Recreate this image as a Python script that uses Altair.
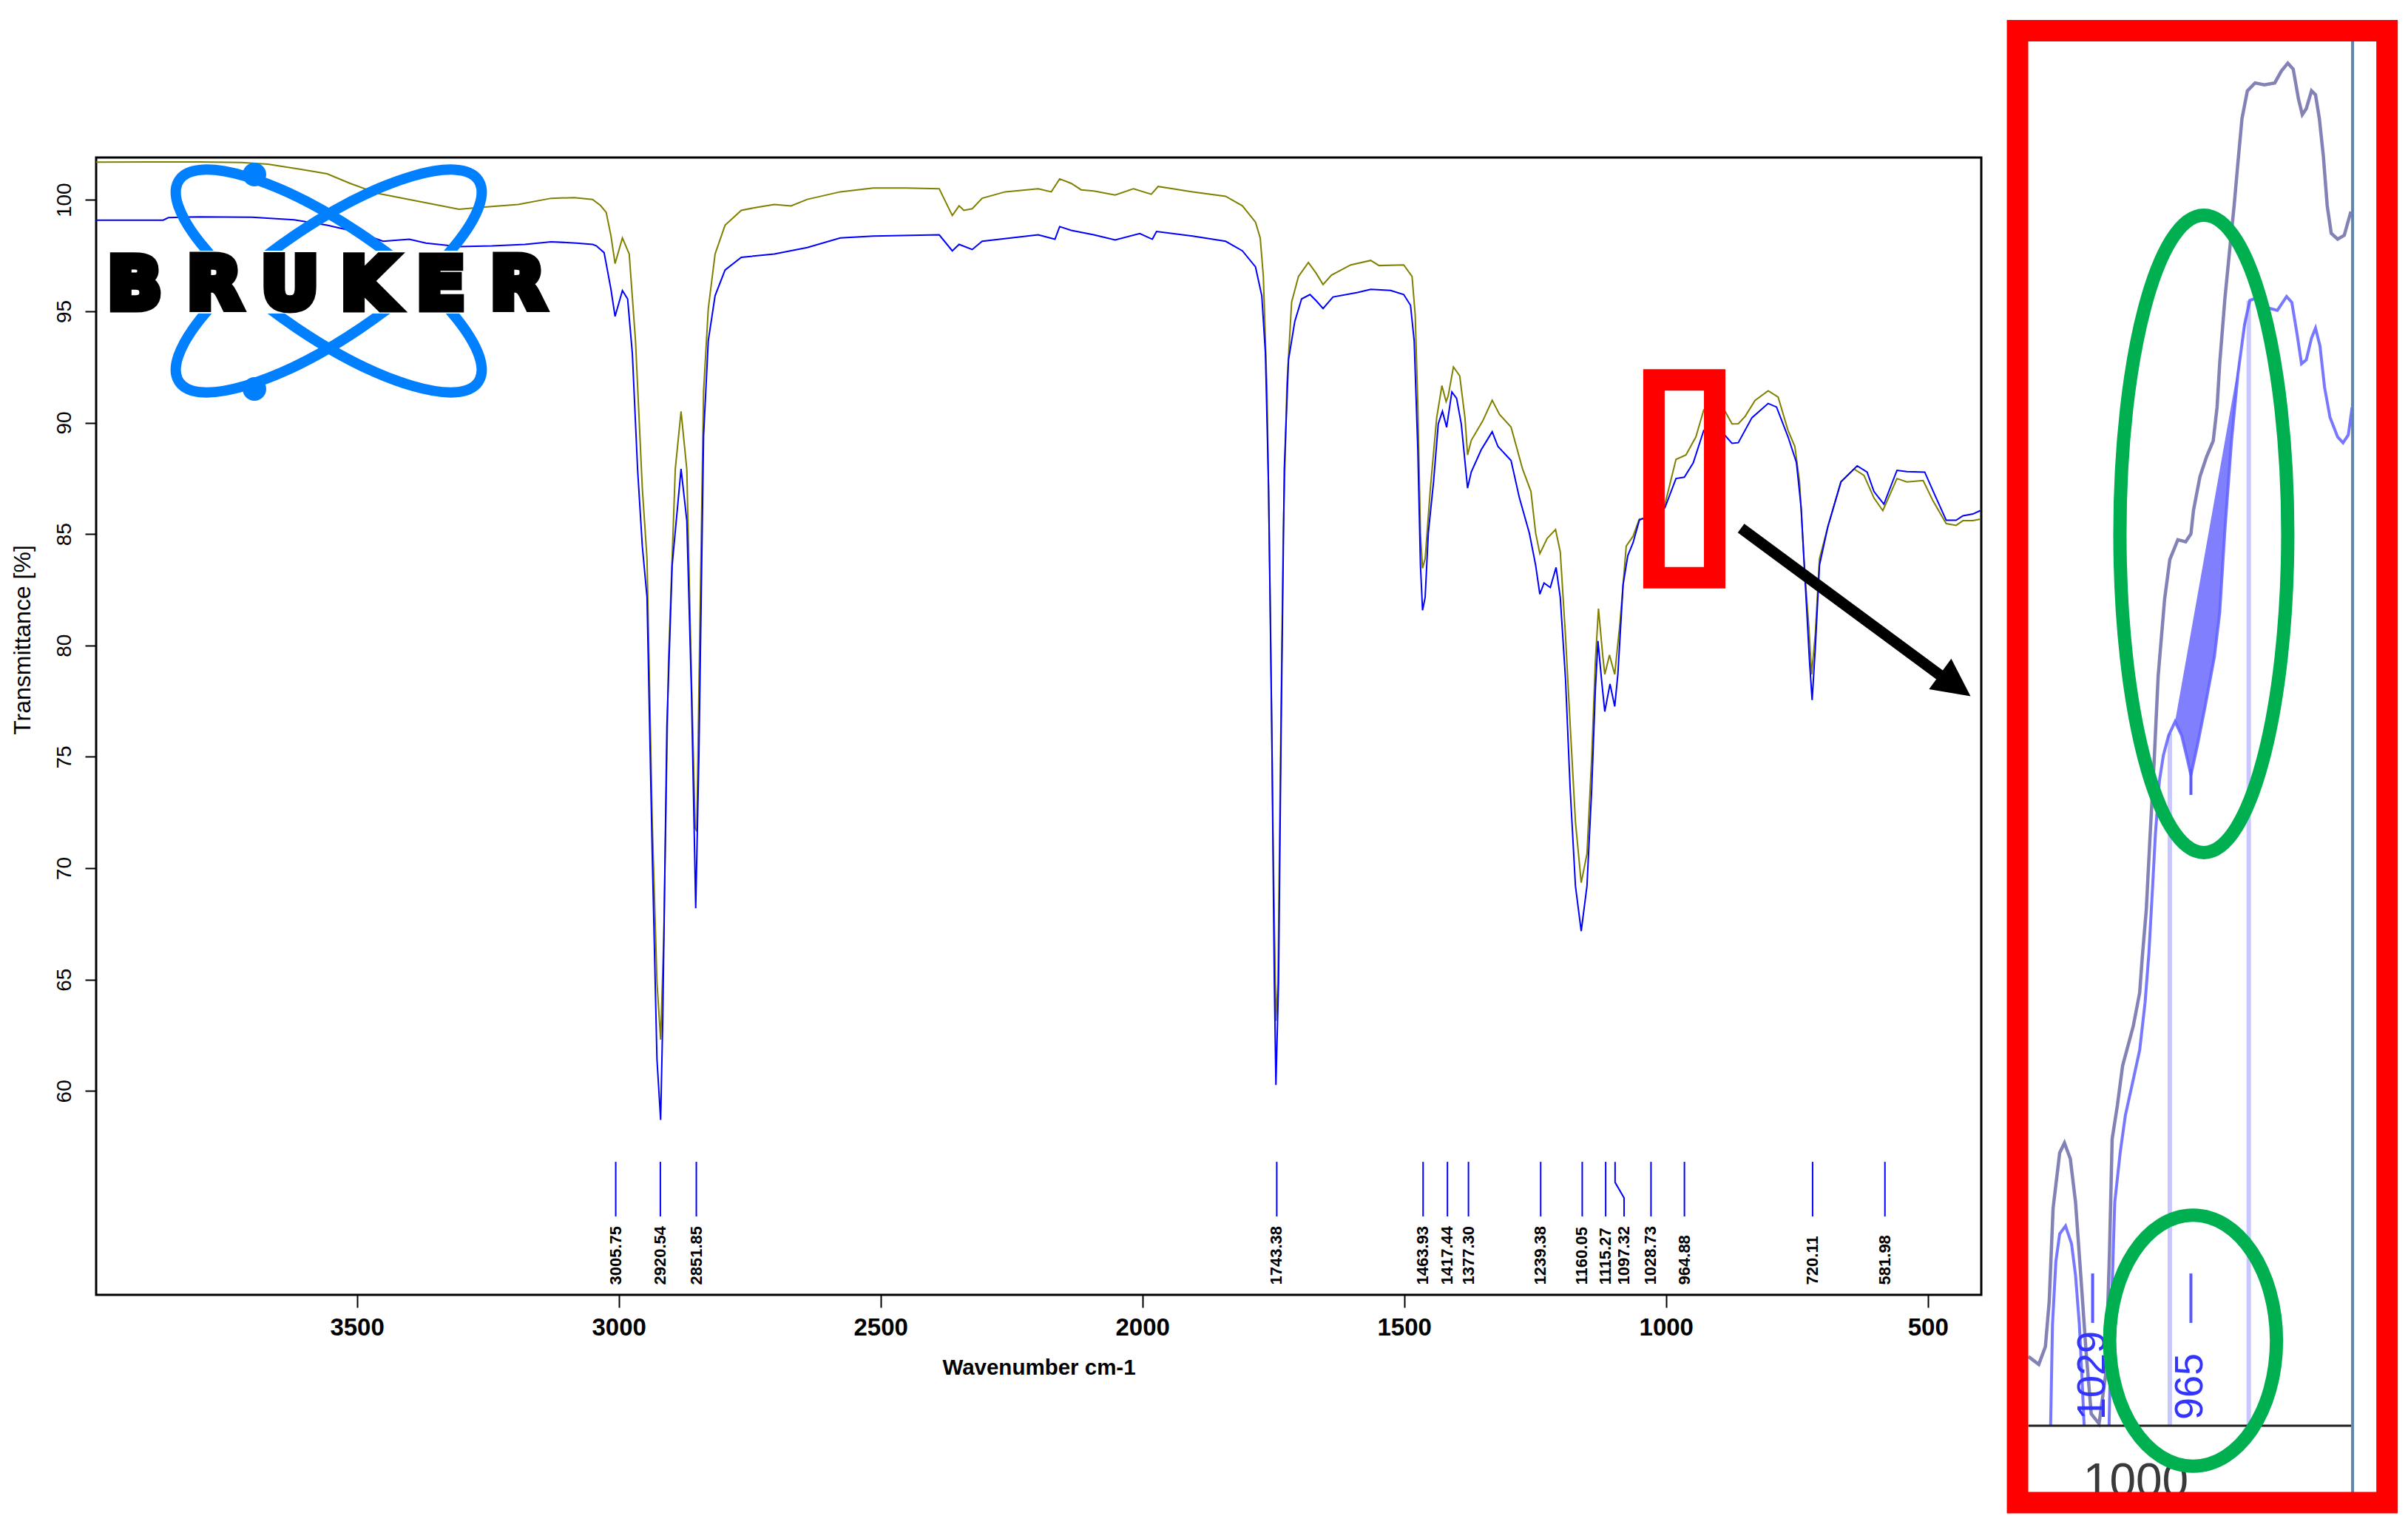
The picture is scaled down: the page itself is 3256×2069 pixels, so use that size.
import altair as alt
import pandas as pd

# ----------------------------------------------------------------------------
# Main IR spectrum (wavenumber cm-1, transmittance %)
# ----------------------------------------------------------------------------
OLIVE_WN = [3998, 3900, 3800, 3720, 3670, 3607, 3557, 3513, 3462, 3368,
            3305, 3261, 3192, 3129, 3085, 3050, 3035, 3024, 3015, 3007,
            2993, 2980, 2968, 2955, 2946, 2936, 2927, 2920, 2914, 2905,
            2892, 2881, 2870, 2861, 2854, 2851, 2845, 2838, 2829, 2816,
            2797, 2766, 2735, 2703, 2671, 2640, 2577, 2514, 2451, 2388,
            2375, 2363, 2350, 2341, 2325, 2306, 2262, 2199, 2174, 2158,
            2136, 2117, 2093, 2052, 2017, 1983, 1970, 1904, 1841, 1809,
            1784, 1775, 1769, 1762, 1756, 1750, 1745, 1741, 1737, 1731,
            1724, 1715, 1702, 1683, 1668, 1655, 1639, 1602, 1564, 1548,
            1501, 1485, 1479, 1474, 1469, 1465, 1460, 1450, 1438, 1428,
            1420, 1416, 1406, 1394, 1384, 1379, 1372, 1350, 1332, 1318,
            1296, 1274, 1258, 1249, 1241, 1227, 1211, 1202, 1192, 1183,
            1173, 1162, 1151, 1142, 1135, 1129, 1121, 1117, 1108, 1098,
            1088, 1076, 1063, 1051, 1041, 1029, 1015, 1002, 981, 962,
            943, 928, 915, 900, 887, 874, 862, 849, 830, 805,
            786, 767, 754, 745, 736, 727, 722, 715, 707, 691,
            666, 641, 622, 603, 586, 559, 540, 509, 490, 465,
            446, 433, 414, 400]
OLIVE_T = [101.69, 101.70, 101.70, 101.68, 101.60, 101.37, 101.17, 100.74, 100.30, 99.87,
           99.58, 99.67, 99.79, 100.07, 100.10, 100.02, 99.75, 99.44, 98.40, 97.14,
           98.29, 97.57, 93.68, 87.06, 83.89, 72.08, 64.88, 62.30, 66.90, 79.28,
           87.92, 90.50, 87.90, 78.40, 71.80, 71.65, 81.00, 91.40, 95.12, 97.57,
           98.86, 99.53, 99.67, 99.79, 99.73, 100.02, 100.36, 100.53, 100.53, 100.50,
           99.87, 99.30, 99.73, 99.53, 99.60, 100.07, 100.36, 100.50, 100.36, 100.94,
           100.74, 100.45, 100.40, 100.22, 100.50, 100.25, 100.60, 100.36, 100.16, 99.73,
           99.00, 98.29, 96.56, 91.38, 82.20, 70.64, 63.15, 64.88, 73.50, 85.00,
           91.70, 95.41, 96.56, 97.19, 96.70, 96.20, 96.62, 97.08, 97.28, 97.05,
           97.08, 96.56, 94.83, 90.80, 85.00, 83.46, 83.90, 87.06, 90.22, 91.66,
           90.94, 91.20, 92.50, 92.10, 90.22, 88.55, 89.20, 90.08, 91.00, 90.37,
           89.80, 87.92, 86.91, 85.04, 84.12, 84.80, 85.20, 84.20, 80.43, 76.40,
           72.08, 69.35, 70.64, 74.96, 79.28, 81.65, 79.57, 78.70, 79.57, 78.70,
           81.00, 84.46, 84.90, 85.67, 85.70, 85.60, 85.90, 86.34, 88.35, 88.55,
           89.36, 90.57, 90.80, 90.70, 90.50, 89.94, 89.95, 90.28, 91.00, 91.43,
           91.15, 89.65, 88.93, 87.34, 83.60, 80.72, 78.70, 80.50, 83.89, 85.33,
           87.34, 87.92, 87.63, 86.62, 86.05, 87.49, 87.34, 87.40, 86.48, 85.47,
           85.39, 85.60, 85.60, 85.67]

BLUE_WN = [3998, 3870, 3860, 3800, 3700, 3620, 3557, 3494, 3450, 3400,
           3368, 3305, 3242, 3179, 3129, 3081, 3050, 3043, 3028, 3024,
           3015, 3007, 2993, 2983, 2974, 2964, 2955, 2946, 2936, 2927,
           2920, 2916, 2908, 2898, 2881, 2870, 2861, 2853, 2847, 2838,
           2829, 2816, 2797, 2766, 2703, 2640, 2577, 2514, 2388, 2363,
           2350, 2325, 2306, 2199, 2167, 2158, 2136, 2093, 2052, 2005,
           1981, 1973, 1904, 1841, 1809, 1784, 1772, 1765, 1759, 1753,
           1748, 1745, 1740, 1735, 1729, 1721, 1709, 1696, 1680, 1668,
           1655, 1636, 1589, 1564, 1526, 1501, 1488, 1481, 1474, 1469,
           1465, 1460, 1454, 1444, 1435, 1427, 1419, 1409, 1400, 1391,
           1379, 1372, 1353, 1332, 1321, 1296, 1280, 1261, 1249, 1241,
           1233, 1221, 1210, 1202, 1192, 1183, 1173, 1162, 1151, 1142,
           1135, 1130, 1123, 1117, 1107, 1098, 1092, 1082, 1073, 1063,
           1051, 1044, 1029, 1015, 1002, 981, 965, 948, 928, 912,
           900, 887, 874, 862, 836, 805, 789, 767, 751, 742,
           734, 726, 721, 715, 707, 691, 666, 635, 616, 603,
           584, 559, 540, 506, 487, 465, 446, 433, 414, 400]
BLUE_T = [99.09, 99.09, 99.20, 99.24, 99.22, 99.10, 98.86, 98.52, 98.14, 98.23,
          98.06, 97.90, 97.93, 98.00, 98.12, 98.06, 98.00, 97.94, 97.63, 97.14,
          96.00, 94.77, 95.93, 95.55, 93.10, 87.90, 84.46, 82.16, 70.64, 61.42,
          58.70, 63.15, 76.40, 83.60, 87.92, 85.60, 77.80, 68.20, 74.96, 89.40,
          93.68, 95.70, 96.85, 97.42, 97.57, 97.86, 98.29, 98.37, 98.43, 97.71,
          98.00, 97.77, 98.14, 98.43, 98.23, 98.80, 98.63, 98.43, 98.20, 98.49,
          98.23, 98.58, 98.37, 98.14, 97.71, 96.99, 95.70, 93.10, 87.06, 76.40,
          64.88, 60.27, 64.88, 76.40, 87.92, 92.82, 94.54, 95.55, 95.75, 95.47,
          95.12, 95.64, 95.84, 95.98, 95.93, 95.75, 95.27, 93.68, 88.78, 83.60,
          81.58, 82.16, 85.04, 87.34, 89.94, 90.51, 89.79, 91.38, 91.09, 89.94,
          87.06, 87.78, 88.78, 89.59, 88.93, 88.30, 86.62, 85.04, 83.60, 82.30,
          82.80, 82.60, 83.50, 82.16, 78.50, 73.52, 69.20, 67.18, 69.20, 73.52,
          78.00, 80.20, 78.42, 77.03, 78.27, 77.26, 78.70, 82.74, 84.03, 84.61,
          85.62, 85.70, 85.40, 85.80, 86.19, 87.49, 87.55, 88.20, 89.65, 89.90,
          89.70, 89.42, 89.07, 89.10, 90.22, 90.86, 90.70, 89.36, 88.21, 86.19,
          82.74, 79.28, 77.55, 79.86, 83.60, 85.33, 87.34, 88.06, 87.78, 86.91,
          86.34, 87.86, 87.80, 87.78, 86.77, 85.62, 85.62, 85.82, 85.90, 86.05]

PEAK_WN = [3005.75, 2920.54, 2851.85, 1743.38, 1463.93, 1417.44, 1377.30, 1239.38,
           1160.05, 1115.27, 1097.32, 1028.73, 964.88, 720.11, 581.98]
PEAK_TEXT = ["3005.75", "2920.54", "2851.85", "1743.38", "1463.93", "1417.44", "1377.30",
             "1239.38", "1160.05", "1115.27", "1097.32", "1028.73", "964.88", "720.11", "581.98"]

X_TICKS = [3500, 3000, 2500, 2000, 1500, 1000, 500]
Y_TICKS = [60, 65, 70, 75, 80, 85, 90, 95, 100]

# ----------------------------------------------------------------------------
# Zoomed inset (screenshot of the 1070-860 cm-1 region, its own units)
# ----------------------------------------------------------------------------
INSET_UPPER_WN = [1069.9, 1063.1, 1058.8, 1056.3, 1053.8, 1049.5, 1046.4, 1042.6, 1039.2, 1035.8,
                  1032.4, 1029.0, 1023.9, 1019.6, 1017.1, 1015.4, 1012.0, 1008.6, 1001.7, 997.5,
                  995.8, 993.2, 990.7, 988.1, 985.5, 981.3, 977.9, 972.7, 967.6, 964.2,
                  962.5, 958.3, 954.0, 949.7, 947.2, 945.5, 942.1, 938.7, 936.1, 933.6,
                  931.0, 927.5, 922.5, 916.5, 909.7, 905.4, 901.2, 897.7, 894.3, 891.8,
                  889.2, 885.8, 883.2, 880.7, 878.1, 875.6, 873.0, 868.8, 864.5, 860.2]
INSET_UPPER_T = [84.35, 84.31, 84.40, 84.63, 85.10, 85.38, 85.43, 85.35, 85.13, 84.76,
                 84.38, 84.06, 84.01, 84.26, 84.88, 85.45, 85.62, 85.82, 86.02, 86.19,
                 86.37, 86.61, 86.99, 87.36, 87.79, 88.18, 88.38, 88.48, 88.47, 88.51,
                 88.63, 88.80, 88.90, 88.98, 89.15, 89.37, 89.70, 89.97, 90.17, 90.39,
                 90.61, 90.75, 90.79, 90.78, 90.79, 90.85, 90.89, 90.86, 90.71, 90.63,
                 90.66, 90.75, 90.73, 90.61, 90.42, 90.17, 90.03, 90.00, 90.02, 90.14]
INSET_LOWER_A_WN = [1055.4, 1054.2, 1052.0, 1049.5, 1045.7, 1041.8, 1039.2, 1036.7, 1035.0, 1033.6]
INSET_LOWER_A_T = [84.00, 84.51, 84.83, 84.97, 85.01, 84.92, 84.76, 84.51, 84.24, 84.00]
INSET_LOWER_B_WN = [1017.4, 1015.7, 1013.7, 1010.2, 1006.8, 1001.7, 997.5, 994.0, 991.5, 989.0,
                    987.3, 984.7, 982.1, 978.7, 974.5, 970.2, 966.8, 964.2, 960.0, 954.9,
                    948.9, 945.5, 942.1, 937.8, 933.6, 929.3, 925.9, 922.5, 918.2, 913.1,
                    908.0, 902.0, 898.6, 895.2, 892.3, 889.2, 885.8, 883.2, 880.3, 877.3,
                    873.8, 868.8, 865.3, 861.9, 859.4]
INSET_LOWER_B_T = [84.00, 84.63, 85.13, 85.38, 85.57, 85.75, 85.90, 86.14, 86.39, 86.74,
                   86.99, 87.26, 87.39, 87.49, 87.56, 87.49, 87.38, 87.29, 87.44, 87.64,
                   87.89, 88.11, 88.53, 88.98, 89.32, 89.57, 89.69, 89.70, 89.66, 89.65,
                   89.64, 89.71, 89.68, 89.52, 89.37, 89.39, 89.50, 89.55, 89.46, 89.25,
                   89.10, 89.00, 88.97, 89.01, 89.15]
INSET_PEAK_WN = [1028.1, 964.2]
INSET_PEAK_TEXT = ["1029", "965"]
INSET_LIMIT_WN = [977.9, 926.6]
INSET_LIMIT_T = [87.50, 89.69]

# ----------------------------------------------------------------------------
# Layout / style
# ----------------------------------------------------------------------------
W, H = 2549, 1538
FONT = "Liberation Sans"
OLIVE, BLUE = "#808000", "#0000ff"
X_DOM = [3998, 398]
Y_DOM = [50.85, 101.9]
xs = alt.Scale(domain=X_DOM, nice=False, zero=False)
ys = alt.Scale(domain=Y_DOM, nice=False, zero=False)
SX = (X_DOM[0] - X_DOM[1]) / W    # wavenumber per pixel
SY = (Y_DOM[1] - Y_DOM[0]) / H    # transmittance per pixel


def from_px_x(p):      # plot-pixel -> main x units
    return X_DOM[0] - p * SX


def from_px_y(p):      # plot-pixel -> main y units
    return Y_DOM[1] - p * SY


# inset placement: its own wavenumber/T axes mapped to a pixel box right of the plot
INSET_WN0, INSET_PX0, INSET_KX = 1070.0, 2612.4, 2.08
INSET_T0, INSET_PY0, INSET_KY = 84.0, 1715.0, 267.43


def ix(w):
    return from_px_x(INSET_PX0 + (INSET_WN0 - w) * INSET_KX)


def iy(t):
    return from_px_y(INSET_PY0 - (t - INSET_T0) * INSET_KY)


MARK_TOP, MARK_BOT, LABEL_BASE = 56.82, 54.37, 51.30
KINK_PEAK, KINK_SHIFT, KINK_Y1, KINK_Y2 = "1097.32", 17.2, 55.9, 55.2


def ellipse_path(ax, ay):
    k = 0.5523
    return (f"M {ax} 0 C {ax} {k*ay:.4f} {k*ax:.4f} {ay} 0 {ay} "
            f"C {-k*ax:.4f} {ay} {-ax} {k*ay:.4f} {-ax} 0 "
            f"C {-ax} {-k*ay:.4f} {-k*ax:.4f} {-ay} 0 {-ay} "
            f"C {k*ax:.4f} {-ay} {ax} {-k*ay:.4f} {ax} 0 Z")


X = lambda f: alt.X(f, scale=xs)
Y = lambda f: alt.Y(f, scale=ys)

# ---------------- main spectrum layers ----------------
olive_df = pd.DataFrame({"wn": OLIVE_WN, "T": OLIVE_T})
blue_df = pd.DataFrame({"wn": BLUE_WN, "T": BLUE_T})

x_axis = alt.Axis(values=X_TICKS, format="d", grid=False, domain=False, tickSize=17,
                  tickWidth=2, tickColor="black", labelFont=FONT, labelFontSize=33,
                  labelFontWeight="bold", labelColor="black", labelPadding=11,
                  labelFlush=False, labelOverlap=False, title="Wavenumber cm-1",
                  titleFont=FONT, titleFontSize=29.5, titleFontWeight="bold",
                  titleColor="black", titleY=98, titleBaseline="middle")
y_axis = alt.Axis(values=Y_TICKS, format="d", grid=False, domain=False, tickSize=15,
                  tickWidth=2, tickColor="black", labelFont=FONT, labelFontSize=28,
                  labelColor="black", labelAngle=270, labelAlign="center",
                  labelBaseline="bottom", labelPadding=14, labelFlush=False,
                  labelOverlap=False, title="Transmittance [%]", titleFont=FONT,
                  titleFontSize=32, titleFontWeight="normal", titleColor="black",
                  titleAngle=270, titleX=-100, titleY=652, titleAlign="center",
                  titleBaseline="middle")

layers = []
layers.append(alt.Chart(olive_df).mark_line(color=OLIVE, strokeWidth=2).encode(
    x=alt.X("wn:Q", scale=xs, axis=x_axis), y=alt.Y("T:Q", scale=ys, axis=y_axis)))
layers.append(alt.Chart(blue_df).mark_line(color=BLUE, strokeWidth=2).encode(
    x=X("wn:Q"), y=Y("T:Q")))

peaks = pd.DataFrame({"wn": PEAK_WN, "label": PEAK_TEXT})
peaks["lx"] = [w - KINK_SHIFT if t == KINK_PEAK else w for w, t in zip(PEAK_WN, PEAK_TEXT)]
peaks["top"], peaks["bot"], peaks["base"] = MARK_TOP, MARK_BOT, LABEL_BASE
straight = peaks[peaks["label"] != KINK_PEAK]
kink_w = PEAK_WN[PEAK_TEXT.index(KINK_PEAK)]
kink_df = pd.DataFrame({
    "wn": [kink_w, kink_w, kink_w - KINK_SHIFT, kink_w - KINK_SHIFT],
    "T": [MARK_TOP, KINK_Y1, KINK_Y2, MARK_BOT],
    "o": [0, 1, 2, 3],
})
layers.append(alt.Chart(straight).mark_rule(color=BLUE, strokeWidth=2).encode(
    x=X("wn:Q"), y=Y("top:Q"), y2="bot:Q"))
layers.append(alt.Chart(kink_df).mark_line(color=BLUE, strokeWidth=2).encode(
    x=X("wn:Q"), y=Y("T:Q"), order="o:Q"))
layers.append(alt.Chart(peaks).mark_text(
    angle=270, align="left", baseline="middle", font=FONT, fontSize=22,
    fontWeight="bold", color="black").encode(x=X("lx:Q"), y=Y("base:Q"), text="label:N"))

# ---------------- Bruker logo (positions in plot pixels) ----------------
LOGO_BLUE = "#0080ff"
centre = pd.DataFrame({"x": [from_px_x(314.5)], "y": [from_px_y(167)]})
orbit_shape = ellipse_path(1, 0.3156)
for ang in (34, 326):
    layers.append(alt.Chart(centre).mark_point(
        shape=orbit_shape, size=238144, angle=ang, filled=False, stroke=LOGO_BLUE,
        strokeWidth=14, opacity=1).encode(x=X("x:Q"), y=Y("y:Q")))
band = pd.DataFrame({"a": [from_px_x(92)], "b": [from_px_x(537)],
                     "c": [from_px_y(126)], "d": [from_px_y(211)]})
layers.append(alt.Chart(band).mark_rect(color="white", opacity=1).encode(
    x=X("a:Q"), x2="b:Q", y=Y("c:Q"), y2="d:Q"))
dots = pd.DataFrame({"x": [from_px_x(214)] * 2, "y": [from_px_y(23), from_px_y(313)]})
layers.append(alt.Chart(dots).mark_point(shape="circle", size=1018, filled=True,
                                         color=LOGO_BLUE, opacity=1).encode(
    x=X("x:Q"), y=Y("y:Q")))
LETTER_PX = [52, 160, 262, 368, 466, 570]
letters = pd.DataFrame({"ch": list("BRUKER"),
                        "x": [from_px_x(p) for p in LETTER_PX],
                        "y": [from_px_y(204)] * 6})
layers.append(alt.Chart(letters).mark_text(
    font="DejaVu Sans", fontWeight="bold", fontSize=96, color="black",
    stroke="black", strokeWidth=11, strokeJoin="miter",
    align="center", baseline="alphabetic").encode(x=X("x:Q"), y=Y("y:Q"), text="ch:N"))

# ---------------- red box and arrow ----------------
box_df = pd.DataFrame({"x1": [1023.1], "x2": [907.1], "y1": [91.92], "y2": [83.04]})
layers.append(alt.Chart(box_df).mark_rect(fillOpacity=0, stroke="#ff0000", strokeWidth=29).encode(
    x=X("x1:Q"), x2="x2:Q", y=Y("y1:Q"), y2="y2:Q"))
arrow_df = pd.DataFrame({"x1": [856.8], "y1": [85.26], "x2": [470.1], "y2": [78.55],
                         "hx": [447.5], "hy": [78.22]})
layers.append(alt.Chart(arrow_df).mark_rule(color="black", strokeWidth=15).encode(
    x=X("x1:Q"), y=Y("y1:Q"), x2="x2:Q", y2="y2:Q"))
layers.append(alt.Chart(arrow_df).mark_point(
    shape="M 1 0 L -1 -1 L -1 1 Z", size=2601, angle=36.2, filled=True,
    color="black", opacity=1, strokeWidth=0).encode(x=X("hx:Q"), y=Y("hy:Q")))

# ---------------- inset ----------------
lim = pd.DataFrame({"x": [ix(w) for w in INSET_LIMIT_WN],
                    "y": [iy(t) for t in INSET_LIMIT_T], "y0": iy(84.0)})
layers.append(alt.Chart(lim).mark_rule(color="#c8c8ff", strokeWidth=6).encode(
    x=X("x:Q"), y=Y("y:Q"), y2="y0:Q"))

FILL_START, FILL_END = 974.5, 925.9
i0 = INSET_LOWER_B_WN.index(FILL_START)
i1 = INSET_LOWER_B_WN.index(FILL_END)
t0, t1 = INSET_LOWER_B_T[i0], INSET_LOWER_B_T[i1]
fill_wn = INSET_LOWER_B_WN[i0:i1 + 1]
fill_t = INSET_LOWER_B_T[i0:i1 + 1]
fill_df = pd.DataFrame({
    "x": [ix(w) for w in fill_wn],
    "y": [iy(t) for t in fill_t],
    "base": [iy(t0 + (w - FILL_START) * (t1 - t0) / (FILL_END - FILL_START)) for w in fill_wn],
})
layers.append(alt.Chart(fill_df).mark_area(color="#8080ff", opacity=1).encode(
    x=X("x:Q"), y=Y("y:Q"), y2="base:Q"))

lower_df = pd.concat([
    pd.DataFrame({"x": [ix(w) for w in INSET_LOWER_A_WN],
                  "y": [iy(t) for t in INSET_LOWER_A_T], "seg": "a"}),
    pd.DataFrame({"x": [ix(w) for w in INSET_LOWER_B_WN],
                  "y": [iy(t) for t in INSET_LOWER_B_T], "seg": "b"}),
])
layers.append(alt.Chart(lower_df).mark_line(color="#6060ff", strokeWidth=4, opacity=0.85).encode(
    x=X("x:Q"), y=Y("y:Q"), detail="seg:N"))
upper_df = pd.DataFrame({"x": [ix(w) for w in INSET_UPPER_WN],
                         "y": [iy(t) for t in INSET_UPPER_T]})
layers.append(alt.Chart(upper_df).mark_line(color="#7474ae", strokeWidth=4.5, opacity=0.9).encode(
    x=X("x:Q"), y=Y("y:Q")))

iaxis = pd.DataFrame({"a": [ix(1069.9)], "b": [ix(860.1)], "y": [iy(84.0)]})
layers.append(alt.Chart(iaxis).mark_rule(color="#1e1e1e", strokeWidth=3).encode(
    x=X("a:Q"), x2="b:Q", y=Y("y:Q")))
steel = pd.DataFrame({"x": [ix(859.1)], "a": [iy(91.0)], "b": [iy(83.66)]})
layers.append(alt.Chart(steel).mark_rule(color="#5f84b0", strokeWidth=4).encode(
    x=X("x:Q"), y=Y("a:Q"), y2="b:Q"))

ipk = pd.DataFrame({"x": [ix(w) for w in INSET_PEAK_WN], "label": INSET_PEAK_TEXT,
                    "a": iy(84.77), "b": iy(84.52), "base": iy(84.03),
                    "da": iy(87.32), "db": iy(87.19)})
layers.append(alt.Chart(ipk).mark_rule(color="#5a5aff", strokeWidth=4).encode(
    x=X("x:Q"), y=Y("a:Q"), y2="b:Q"))
layers.append(alt.Chart(ipk[ipk["label"] == "965"]).mark_rule(color="#5a5aff", strokeWidth=4).encode(
    x=X("x:Q"), y=Y("da:Q"), y2="db:Q"))
layers.append(alt.Chart(ipk).mark_text(
    angle=270, align="left", baseline="middle", font=FONT, fontSize=54, color="#3434ff"
).encode(x=X("x:Q"), y=Y("base:Q"), text="label:N"))
t1000 = pd.DataFrame({"x": [ix(1000)], "y": [iy(83.83)], "label": ["1000"]})
layers.append(alt.Chart(t1000).mark_text(
    baseline="top", align="center", font=FONT, fontSize=64, color="#3a3a3a"
).encode(x=X("x:Q"), y=Y("y:Q"), text="label:N"))

g1 = pd.DataFrame({"x": [ix(955.8)], "y": [iy(88.51)]})
g2 = pd.DataFrame({"x": [ix(962.8)], "y": [iy(84.43)]})
layers.append(alt.Chart(g1).mark_point(
    shape=ellipse_path(0.2633, 1), size=743044, filled=False, stroke="#00b050",
    strokeWidth=18, opacity=1).encode(x=X("x:Q"), y=Y("y:Q")))
layers.append(alt.Chart(g2).mark_point(
    shape=ellipse_path(0.6647, 1), size=115192, filled=False, stroke="#00b050",
    strokeWidth=18, opacity=1).encode(x=X("x:Q"), y=Y("y:Q")))

frame = pd.DataFrame({"a": [ix(1076.9)], "b": [ix(836.7)], "c": [iy(91.054)], "d": [iy(83.611)]})
layers.append(alt.Chart(frame).mark_rect(fillOpacity=0, stroke="#ff0000", strokeWidth=29).encode(
    x=X("a:Q"), x2="b:Q", y=Y("c:Q"), y2="d:Q"))

chart = alt.layer(*layers).properties(
    width=W, height=H,
    padding={"left": 122, "top": 205, "right": 565, "bottom": 305},
    autosize=alt.AutoSizeParams(type="none"),
    background="white",
).configure_view(stroke="black", strokeWidth=3)

chart.save("out.html", embed_options={"renderer": "svg", "actions": False})
